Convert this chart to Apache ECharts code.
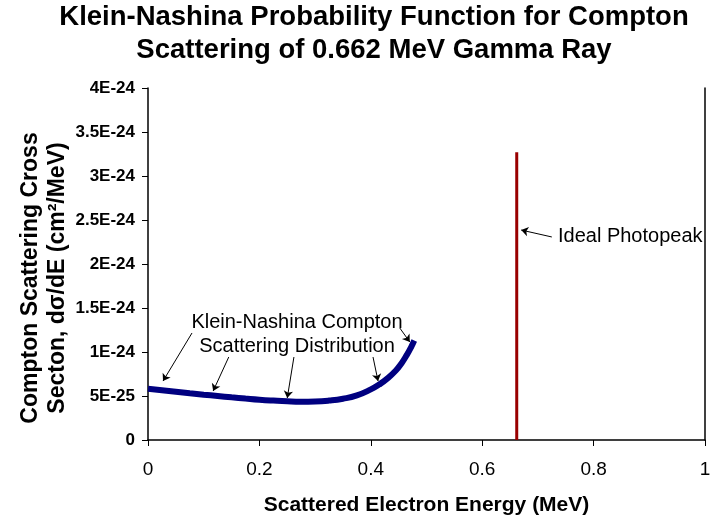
<!DOCTYPE html>
<html>
<head>
<meta charset="utf-8">
<script src="https://cdn.jsdelivr.net/npm/echarts@6.0.0/dist/echarts.min.js"></script>
<style>html,body{margin:0;padding:0;background:#fff}#c{width:710px;height:520px}</style>
</head>
<body>
<div id="c"></div>
<script>
// Scattered electron energy (MeV) along the Klein-Nishina curve
var knEnergy = [0, 0.025, 0.05, 0.075, 0.1, 0.125, 0.15, 0.175, 0.2, 0.225, 0.25, 0.275, 0.3, 0.325, 0.35, 0.375, 0.4, 0.415, 0.43, 0.445, 0.455, 0.465, 0.472, 0.478];
// Cross section dσ/dE (cm²/MeV)
var knCross = [5.82e-25, 5.65e-25, 5.48e-25, 5.31e-25, 5.15e-25, 5.0e-25, 4.85e-25, 4.71e-25, 4.58e-25, 4.48e-25, 4.40e-25, 4.36e-25, 4.38e-25, 4.48e-25, 4.69e-25, 5.07e-25, 5.75e-25, 6.3e-25, 7.0e-25, 7.9e-25, 8.7e-25, 9.7e-25, 1.05e-24, 1.13e-24];
// Ideal photopeak
var peakEnergy = [0.662, 0.662];
var peakCross = [0, 3.27e-24];
// Axis tick labels
var xTickLabels = ['0', '0.2', '0.4', '0.6', '0.8', '1'];
var yTickLabels = ['0', '5E-25', '1E-24', '1.5E-24', '2E-24', '2.5E-24', '3E-24', '3.5E-24', '4E-24'];
// Annotation arrows: [from energy, from cross, to energy, to cross]
var arrowsKN = [
  [0.079, 1.216e-24, 0.027, 6.7e-25],
  [0.145, 9.43e-25, 0.117, 5.57e-25],
  [0.262, 9.43e-25, 0.250, 4.77e-25],
  [0.404, 9.43e-25, 0.413, 6.7e-25],
  [0.452, 1.273e-24, 0.470, 1.114e-24]
];
var arrowPeak = [0.725, 2.307e-24, 0.670, 2.386e-24];
var noteKN1 = ['Klein-Nashina Compton', 0.2675, 1.341e-24];
var noteKN2 = ['Scattering Distribution', 0.2675, 1.068e-24];
var notePeak = ['Ideal Photopeak', 0.736, 2.307e-24];

// plot the cross sections in units of 1E-25 so the axis arithmetic stays well-conditioned
var UNIT = 1e-25;
var FONT = '"Liberation Sans", Arial, sans-serif';
function pairs(xs, ys) { return xs.map(function (x, i) { return [x, ys[i] / UNIT]; }); }
function arrowData(a) { return [{ coord: [a[0], a[1] / UNIT] }, { coord: [a[2], a[3] / UNIT] }]; }
function note(n, align) {
  return {
    coord: [n[1], n[2] / UNIT], symbol: 'circle', symbolSize: 0,
    label: { show: true, position: 'inside', formatter: n[0], color: '#000', fontSize: 20, fontFamily: FONT, align: align }
  };
}

var chart = echarts.init(document.getElementById('c'), null, { renderer: 'canvas' });
chart.setOption({
  animation: false,
  backgroundColor: '#fff',
  title: {
    text: 'Klein-Nashina Probability Function for Compton\nScattering of 0.662 MeV Gamma Ray',
    left: 374, top: 1, padding: 0, textAlign: 'center',
    textStyle: { fontFamily: FONT, fontSize: 27.5, fontWeight: 'bold', color: '#000', lineHeight: 33 }
  },
  graphic: [{
    type: 'text', x: 44, y: 278, rotation: Math.PI / 2, silent: true,
    style: {
      text: 'Compton Scattering Cross\nSecton, dσ/dE (cm²/MeV)',
      fontFamily: FONT, fontSize: 23, fontWeight: 'bold', fill: '#000',
      align: 'center', verticalAlign: 'middle', lineHeight: 27
    }
  }],
  grid: { left: 148, right: 5, top: 88, bottom: 80, containLabel: false, outerBoundsMode: 'none' },
  xAxis: {
    type: 'value', min: 0, max: 1, interval: 0.2,
    name: 'Scattered Electron Energy (MeV)', nameLocation: 'middle', nameGap: 55,
    nameTextStyle: { fontFamily: FONT, fontSize: 21, fontWeight: 'bold', color: '#000' },
    axisLine: { show: true, lineStyle: { color: '#000', width: 1.5 } },
    axisTick: { show: true, inside: false, length: 6, lineStyle: { color: '#000' } },
    axisLabel: { fontFamily: FONT, fontSize: 19, color: '#000', margin: 20,
      formatter: function (v) { return xTickLabels[Math.round(v / 0.2)]; } },
    splitLine: { show: false }
  },
  yAxis: [{
    type: 'value', min: 0, max: 40, interval: 5,
    axisLine: { show: true, lineStyle: { color: '#000', width: 1.5 } },
    axisTick: { show: true, inside: false, length: 6, lineStyle: { color: '#000' } },
    axisLabel: { fontFamily: FONT, fontSize: 17, fontWeight: 'bold', color: '#000', margin: 13,
      formatter: function (v) { return yTickLabels[Math.round(v / 5)]; } },
    splitLine: { show: false }
  }, {
    type: 'value', min: 0, max: 40, position: 'right',
    axisLine: { show: true, lineStyle: { color: '#000', width: 1.5 } },
    axisTick: { show: false }, axisLabel: { show: false }, splitLine: { show: false }
  }],
  series: [{
    type: 'line', data: pairs(knEnergy, knCross), smooth: true, showSymbol: false,
    lineStyle: { color: '#000080', width: 6 }, z: 3,
    markLine: {
      silent: true, symbol: ['none', 'arrow'], symbolSize: 7,
      lineStyle: { color: '#000', width: 1, type: 'solid' }, label: { show: false },
      data: arrowsKN.map(arrowData).concat([arrowData(arrowPeak)])
    },
    markPoint: {
      silent: true,
      data: [note(noteKN1, 'center'), note(noteKN2, 'center'), note(notePeak, 'left')]
    }
  }, {
    type: 'line', data: pairs(peakEnergy, peakCross), showSymbol: false,
    lineStyle: { color: '#990000', width: 3 }, z: 2
  }]
});
</script>
</body>
</html>
